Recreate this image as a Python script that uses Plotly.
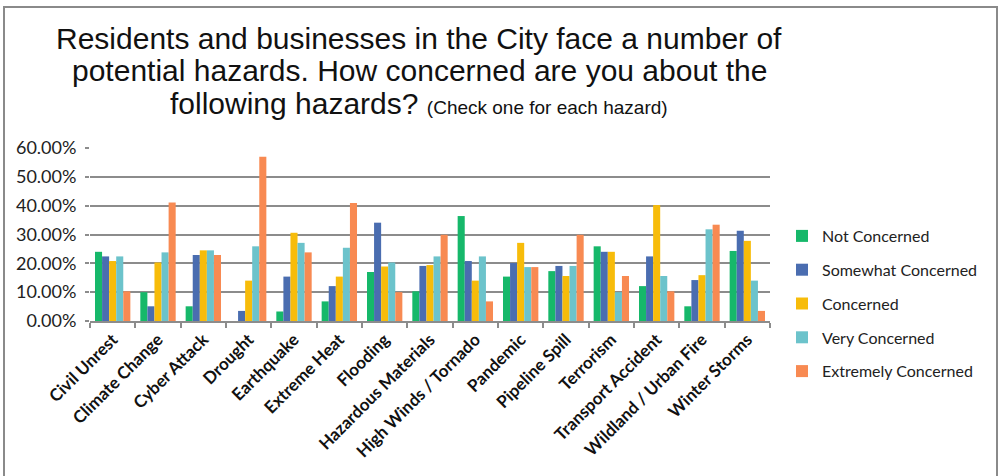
import plotly.graph_objects as go

categories = ["Civil Unrest", "Climate Change", "Cyber Attack", "Drought", "Earthquake",
              "Extreme Heat", "Flooding", "Hazardous Materials", "High Winds / Tornado",
              "Pandemic", "Pipeline Spill", "Terrorism", "Transport Accident",
              "Wildland / Urban Fire", "Winter Storms"]

not_concerned = [24.0, 10.0, 5.1, 0.0, 3.3, 6.8, 17.0, 10.3, 36.4, 15.4, 17.3, 25.9, 12.1, 5.1, 24.3]
somewhat_concerned = [22.4, 5.1, 22.9, 3.5, 15.4, 12.1, 34.1, 19.1, 20.8, 20.1, 19.1, 24.0, 22.4, 14.2, 31.3]
concerned = [20.8, 20.3, 24.5, 14.0, 30.6, 15.4, 18.9, 19.4, 14.0, 27.1, 15.6, 24.0, 40.2, 15.9, 27.8]
very_concerned = [22.4, 23.8, 24.5, 25.9, 27.1, 25.4, 20.3, 22.4, 22.4, 18.7, 19.1, 10.0, 15.6, 31.8, 14.0]
extremely_concerned = [10.3, 41.1, 22.9, 57.0, 23.8, 40.9, 10.0, 29.9, 6.8, 18.7, 29.9, 15.6, 10.3, 33.4, 3.5]

series_names = ["Not Concerned", "Somewhat Concerned", "Concerned", "Very Concerned", "Extremely Concerned"]
series_values = [not_concerned, somewhat_concerned, concerned, very_concerned, extremely_concerned]
colors = ["#16B86A", "#4A6DB0", "#F7BC0A", "#6CC3CB", "#F88A52"]

W, H = 1001, 476
L, R, T, B = 90, 231, 148, 155
PW, PH = W - L - R, H - T - B

def px_x(x):
    return (x - L) / PW

def px_y(y):
    return (H - B - y) / PH

FONT = "Lato, Open Sans, sans-serif"

fig = go.Figure()
for i, (name, vals, col) in enumerate(zip(series_names, series_values, colors)):
    fig.add_trace(go.Bar(
        x=categories, y=[v / 100 for v in vals], name=name,
        marker=dict(color=col, line=dict(width=0)),
        legendgroup=f"g{i}",
    ))

fig.update_layout(
    width=W, height=H,
    margin=dict(l=L, r=R, t=T, b=B, autoexpand=False),
    paper_bgcolor="white", plot_bgcolor="white",
    barmode="group", bargap=0.22, bargroupgap=0,
    font=dict(family=FONT, color="#222"),
    showlegend=True,
    legend=dict(x=px_x(782), y=px_y(219), xanchor="left", yanchor="top",
                font=dict(size=16, family=FONT, color="#222"),
                tracegroupgap=10, itemwidth=30, bgcolor="rgba(0,0,0,0)"),
    xaxis=dict(type="category", showgrid=False, showline=True, linecolor="#8c8c8c", linewidth=2,
               ticks="outside", tickson="boundaries", ticklen=5, tickcolor="#8c8c8c", tickwidth=2,
               tickangle=-45, automargin=False,
               tickfont=dict(size=17, family=FONT, color="#111", weight="bold")),
    yaxis=dict(range=[0, 0.6], dtick=0.1, tickformat=".2%", showgrid=True, gridcolor="#8c8c8c", gridwidth=2,
               showline=False, zeroline=False, ticks="outside", ticklen=4, tickcolor="#8c8c8c", tickwidth=2,
               automargin=False, ticklabelstandoff=5,
               tickfont=dict(size=18, family=FONT, color="#222")),
)

# outer border
fig.add_shape(type="rect", xref="paper", yref="paper",
              x0=px_x(4), x1=px_x(997), y0=px_y(485), y1=px_y(7),
              line=dict(color="#8a8a8a", width=2), fillcolor="rgba(0,0,0,0)", layer="below")

title_lines = ["Residents and businesses in the City face a number of",
               "potential hazards. How concerned are you about the",
               "following hazards? <span style='font-size:19px'>(Check one for each hazard)</span>"]
title_y = [38, 71, 104]
for txt, ty in zip(title_lines, title_y):
    fig.add_annotation(text=txt, xref="paper", yref="paper", x=px_x(419), y=px_y(ty),
                       xanchor="center", yanchor="middle", showarrow=False,
                       font=dict(size=30, family="Liberation Sans, Arial, sans-serif", color="#111"))

fig.write_html("out.html", config={"displayModeBar": False},
               post_script="document.body.style.margin='0';document.body.style.overflow='hidden';")
